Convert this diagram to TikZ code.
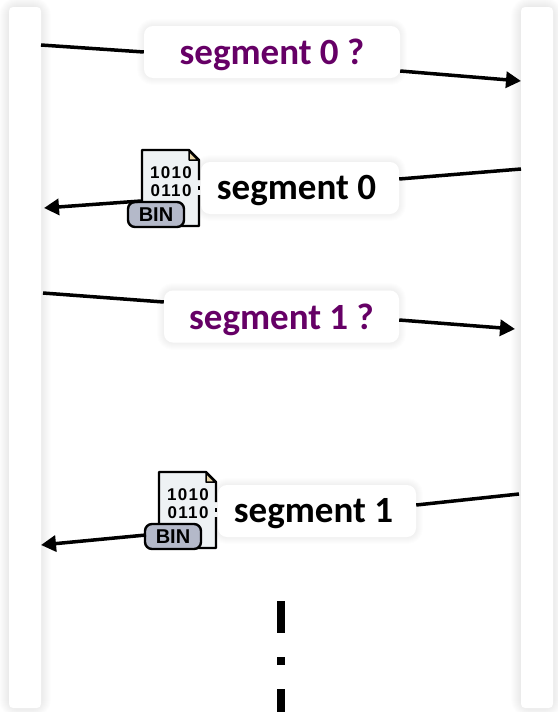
\documentclass[tikz,border=0pt]{standalone}
\usetikzlibrary{arrows.meta}
\usepackage{fontspec}
\setmainfont{Carlito}
\newfontfamily\iconfont{Liberation Sans}
\newfontfamily\bitsfont[LetterSpace=8]{Liberation Sans}
\definecolor{querypurple}{HTML}{660066}
\definecolor{filepaper}{HTML}{EEF2F4}
\definecolor{filefold}{HTML}{E9D6A8}
\definecolor{bintag}{HTML}{B4B9C9}
\newcommand{\msgtext}[2][0pt]{\raisebox{0pt}[\dimexpr\height+6pt\relax][\depth]{#2}\hspace*{#1}}
\tikzset{
  msgbox/.style={fill=white,rounded corners=9pt,minimum height=52pt,inner sep=0pt,font=\fontsize{37}{37}\selectfont\bfseries},
  query/.style={msgbox,text=querypurple},
  softedge/.style={draw=black,line width=#1,draw opacity=0.006,fill=none,rounded corners=9pt},
  flow/.style={line width=3.5pt},
  tip/.style={-{Triangle[length=15pt,width=16pt]}},
  pics/binfile/.style={code={
    \fill[filepaper] (1,0) -- (48,0) -- (58,10) -- (58,76) -- (1,76) -- cycle;
    \draw[line width=2.4pt,line join=round] (58,30) -- (58,10) -- (48,0) -- (1,0) -- (1,76) -- (58,76) -- (58,45);
    \draw[line width=2.4pt] (58,36) -- (58,40);
    \draw[line width=1.5pt,fill=filefold,line join=round] (48,1) -- (48,10) -- (57,10) -- cycle;
    \node[inner sep=0pt,align=center,font=\fontsize{17}{18}\selectfont\bfseries\bitsfont] (#1bits) at (30,32) {1010\\0110};
    \draw[line width=2.4pt,fill=bintag,rounded corners=7pt] (-13,52) rectangle (43,77);
    \node[inner sep=0pt,font=\fontsize{20}{20}\selectfont\bfseries\iconfont] (#1tag) at (15,64.5) {BIN};
  }},
}
\begin{document}
\begin{tikzpicture}[x=1pt,y=-1pt]
  \useasboundingbox (0,0) rectangle (557,712);
  % end panels
  \foreach \w in {2,4,...,20} {
    \draw[softedge=\w pt] (9,7) rectangle (41,708);
    \draw[softedge=\w pt] (521,7) rectangle (553,708);
  }
  \fill[white,rounded corners=4pt] (9,7) rectangle (41,708);
  \fill[white,rounded corners=4pt] (521,7) rectangle (553,708);
  % box shadows
  \foreach \w in {2,4,...,14} {
    \draw[softedge=\w pt] (144,26) rectangle (400,78);
    \draw[softedge=\w pt] (201,162) rectangle (399,214);
    \draw[softedge=\w pt] (164,290) rectangle (399,343);
    \draw[softedge=\w pt] (218,485) rectangle (416,537);
  }
  \coordinate (q0l) at (41,45);
  \coordinate (q0r) at (521,81);
  \coordinate (s0r) at (521,169);
  \coordinate (s0l) at (44,208);
  \coordinate (q1l) at (43,293);
  \coordinate (q1r) at (515,329);
  \coordinate (s1r) at (519,494);
  \coordinate (s1l) at (41,545);
  \path (141,150) pic {binfile=a};
  \path (158,472) pic {binfile=b};
  \draw
    (272,52) node[query,minimum width=256pt] (q0){\msgtext{segment 0 ?}}
    (300,188) node[msgbox,minimum width=198pt] (s0){\msgtext[7pt]{segment 0}}
    (281.5,316.5) node[query,minimum width=235pt] (q1){\msgtext{segment 1 ?}}
    (317,511) node[msgbox,minimum width=198pt] (s1){\msgtext[7pt]{segment 1}};
  \begin{scope}[flow]
    \draw (q0l) to (q0.west);
    \draw[tip] ([yshift=-19pt]q0.east) to (q0r);
    \draw (s0r) to ([yshift=9pt]s0.east);
    \draw[tip] (141,201) to (s0l);
    \draw (q1l) to ([yshift=14.5pt]q1.west);
    \draw[tip] ([yshift=-3.5pt]q1.east) to (q1r);
    \draw (s1r) to ([yshift=6pt]s1.east);
    \draw[tip] (146,535) to (s1l);
  \end{scope}
  % more to come
  \coordinate (moretop) at (281,601);
  \coordinate (morebot) at (281,712);
  \draw[line width=8pt,dash pattern=on 32pt off 24pt on 8pt off 24pt on 40pt] (moretop) to (morebot);
\end{tikzpicture}
\end{document}
